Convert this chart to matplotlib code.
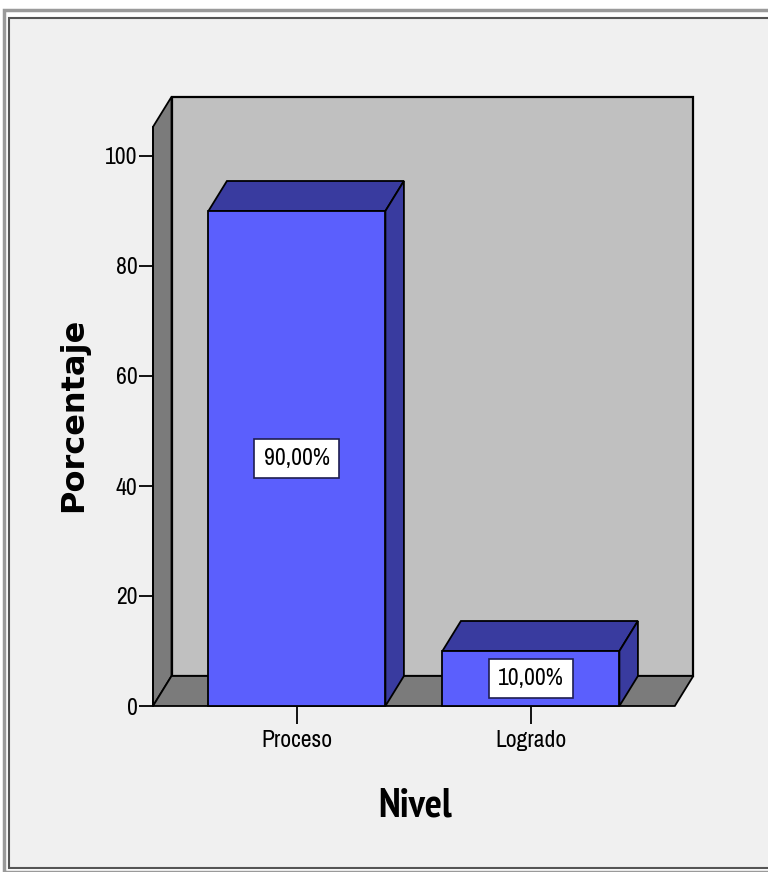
import matplotlib
matplotlib.use("Agg")
import matplotlib.pyplot as plt
from matplotlib.patches import Polygon, Rectangle

# data
categorias = ["Proceso", "Logrado"]
porcentajes = [90.0, 10.0]
etiquetas = ["90,00%", "10,00%"]
y_ticks = [0, 20, 40, 60, 80, 100]

# colours (SPSS style)
col_front = "#5b5ffd"
col_dark = "#393b9f"
col_back = "#c0c0c0"
col_floor = "#7b7b7b"
col_bg = "#f0f0f0"

W, H = 768, 872
# first installed narrow family wins
narrow = ["Liberation Sans Narrow", "Arial Narrow", "Archivo Narrow", "PT Sans Narrow",
          "Roboto Condensed", "Liberation Sans", "DejaVu Sans"]
narrow_bold = ["PT Sans Narrow", "Roboto Condensed", "Archivo Narrow", "Liberation Sans", "DejaVu Sans"]

fig = plt.figure(figsize=(W / 100, H / 100), dpi=100)
fig.patch.set_facecolor("white")

# outer frame of the output window (behind the axes)
fig.patches.append(Rectangle((4 / W, 1 - 872 / H), 1.2, (872 - 10) / H, transform=fig.transFigure,
                             facecolor="none", edgecolor="#9a9a9a", lw=2.5, zorder=-3))
fig.patches.append(Rectangle((9 / W, 1 - 868 / H), 1.2, (868 - 18) / H, transform=fig.transFigure,
                             facecolor=col_bg, edgecolor="#555555", lw=1.5, zorder=-2))

# axes placed so that category 0 / value 0 fall where the reference has them
x_lo, x_hi = -0.615, 1.615
y_top = 105.3
ax = fig.add_axes([153 / W, (H - 706) / H, (x_hi - x_lo) * 234 / W, y_top * 5.5 / H])
ax.set_xlim(x_lo, x_hi)
ax.set_ylim(0, y_top)
ax.patch.set_visible(False)
for s in ax.spines.values():
    s.set_visible(False)

# depth of the 3d effect in data units
dx = 18.5 / 234
dy = 30 / 5.5
bar_w = 177 / 234

def poly(pts, fc, z, lw=1.3):
    ax.add_patch(Polygon(pts, closed=True, facecolor=fc, edgecolor="black", lw=lw,
                         clip_on=False, zorder=z))

# back wall, left wall, floor
poly([(x_lo + dx, dy), (x_hi + dx, dy), (x_hi + dx, y_top + dy), (x_lo + dx, y_top + dy)], col_back, 1, 1.6)
poly([(x_lo, 0), (x_lo + dx, dy), (x_lo + dx, y_top + dy), (x_lo, y_top)], col_floor, 2)
poly([(x_lo, 0), (x_hi, 0), (x_hi + dx, dy), (x_lo + dx, dy)], col_floor, 2)

# bars
for i, v in enumerate(porcentajes):
    l = i - bar_w / 2
    r = i + bar_w / 2
    poly([(l, v), (r, v), (r + dx, v + dy), (l + dx, v + dy)], col_dark, 3)
    poly([(r, 0), (r + dx, dy), (r + dx, v + dy), (r, v)], col_dark, 3)
    poly([(l, 0), (r, 0), (r, v), (l, v)], col_front, 4)
    ax.text(i, v / 2, etiquetas[i], ha="center", va="center", fontsize=17, family=narrow, zorder=5,
            bbox=dict(boxstyle="square,pad=0.4", facecolor="white", edgecolor="#1e1e50", lw=1.2))

# axes line on the left
ax.plot([x_lo, x_lo], [0, y_top], color="black", lw=1.3, clip_on=False, zorder=6)

ax.set_yticks(y_ticks)
ax.set_yticklabels([str(t) for t in y_ticks], family=narrow, fontsize=17)
ax.set_xticks(range(len(categorias)))
ax.set_xticklabels(categorias, family=narrow, fontsize=17)
ax.tick_params(axis="y", direction="out", length=10, width=1.3, pad=1)
ax.tick_params(axis="x", direction="out", length=13, width=1.3, pad=4)

ax.set_ylabel("Porcentaje", fontsize=23, fontweight="bold", family=["DejaVu Sans"])
ax.yaxis.set_label_coords(-0.153, 0.503)
ax.yaxis.label.set_va("center")
ax.set_xlabel("Nivel", fontsize=29, fontweight="bold", family=narrow_bold)
ax.xaxis.set_label_coords(0.502, -0.173)
ax.xaxis.label.set_va("center")

fig.savefig("out.png", dpi=100)
